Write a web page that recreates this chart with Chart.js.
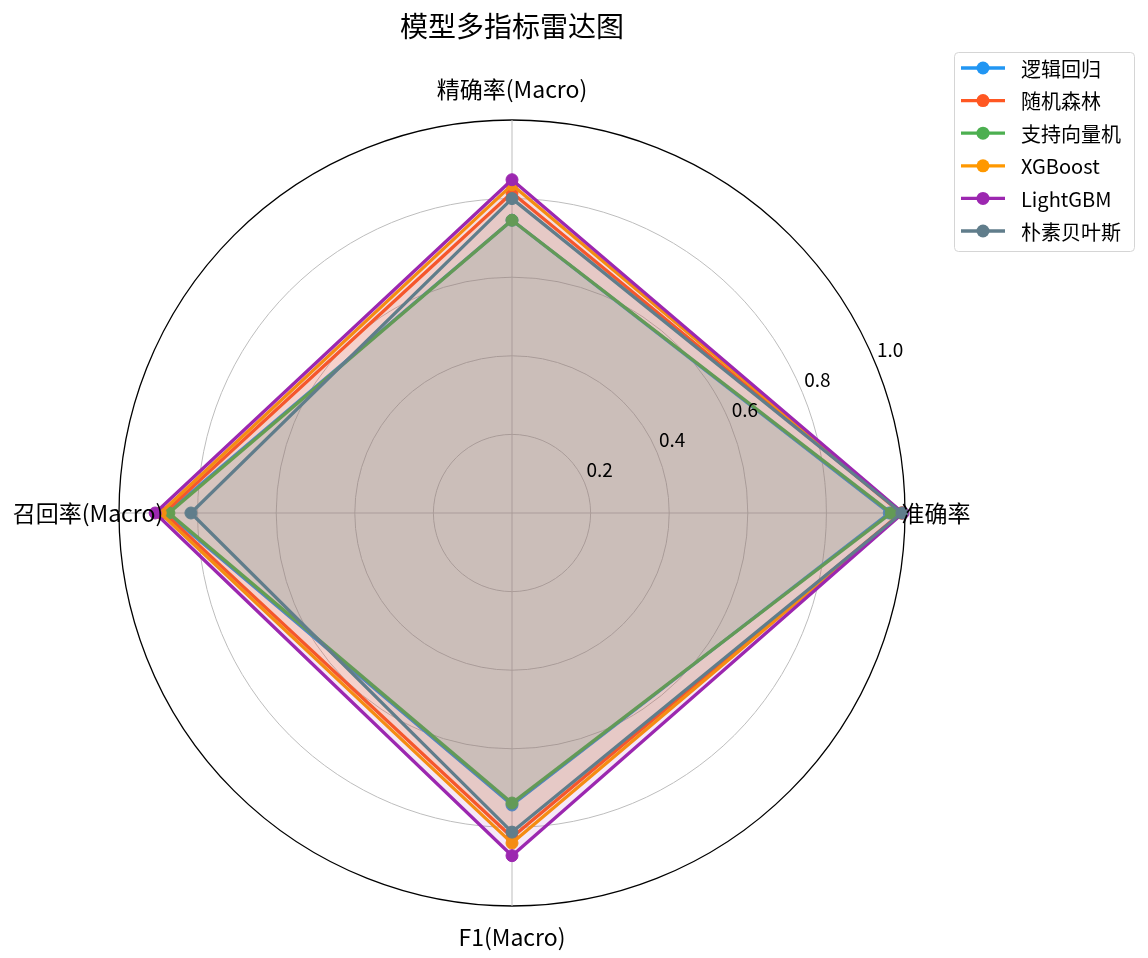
<!DOCTYPE html>
<html>
<head>
<meta charset="utf-8">
<script src="https://cdn.jsdelivr.net/npm/chart.js@4/dist/chart.umd.min.js"></script>
<style>
html,body{margin:0;padding:0;background:#fff;}
#wrap{width:1148px;height:958px;position:relative;}
</style>
</head>
<body>
<div id="wrap"><canvas id="c" width="1148" height="958"></canvas></div>
<script>
// Categories in clockwise order starting from top (Chart.js radar order)
const categories = ['精确率(Macro)', '准确率', 'F1(Macro)', '召回率(Macro)'];
const models = ['逻辑回归', '随机森林', '支持向量机', 'XGBoost', 'LightGBM', '朴素贝叶斯'];
const colors = ['#2196F3', '#FF5722', '#4CAF50', '#FF9800', '#9C27B0', '#607D8B'];
// values per model, in the order of `categories`
const lrValues   = [0.745, 0.960, 0.743, 0.878];
const rfValues   = [0.815, 0.990, 0.825, 0.885];
const svmValues  = [0.745, 0.965, 0.738, 0.873];
const xgbValues  = [0.835, 0.993, 0.840, 0.895];
const lgbmValues = [0.848, 0.995, 0.872, 0.908];
const nbValues   = [0.800, 0.992, 0.812, 0.817];
const seriesValues = [lrValues, rfValues, svmValues, xgbValues, lgbmValues, nbValues];
const tickValues = [0.2, 0.4, 0.6, 0.8, 1.0];
const tickLabels = ['0.2', '0.4', '0.6', '0.8', '1.0'];
const titleText = '模型多指标雷达图';

const FONT = '"Noto Sans CJK SC", "Noto Sans", sans-serif';

function hexA(hex, a) {
  const n = parseInt(hex.slice(1), 16);
  return `rgba(${(n>>16)&255},${(n>>8)&255},${n&255},${a})`;
}

const datasets = models.map((m, i) => ({
  label: m,
  data: seriesValues[i],
  borderColor: colors[i],
  backgroundColor: hexA(colors[i], 0.1),
  pointBackgroundColor: colors[i],
  pointBorderColor: colors[i],
  pointRadius: 6,
  pointBorderWidth: 1,
  borderWidth: 3.3,
  fill: true,
  order: -i
}));

const decor = {
  id: 'decor',
  afterDraw(chart) {
    const ctx = chart.ctx;
    const s = chart.scales.r;
    ctx.save();
    // title
    ctx.fillStyle = '#000';
    ctx.font = `28px ${FONT}`;
    ctx.textAlign = 'center';
    ctx.textBaseline = 'middle';
    ctx.fillText(titleText, s.xCenter, 26);
    // point labels
    ctx.font = `23px ${FONT}`;
    categories.forEach((c, i) => {
      const p = s.getPointPosition(i, s.drawingArea * 1.079);
      ctx.fillText(c, p.x, p.y);
    });
    // tick labels at 22.5 degrees
    ctx.font = `19px ${FONT}`;
    const ang = 22.5 * Math.PI / 180;
    tickValues.forEach((v, i) => {
      const d = s.getDistanceFromCenterForValue(v);
      const x = s.xCenter + d * Math.cos(ang) + 15;
      const y = s.yCenter - d * Math.sin(ang) - 13;
      ctx.fillText(tickLabels[i], x, y);
    });
    // legend
    const bx = 954, by = 52, bw = 180, bh = 199;
    ctx.beginPath();
    ctx.roundRect(bx + 0.5, by + 0.5, bw, bh, 4);
    ctx.fillStyle = 'rgba(255,255,255,0.8)';
    ctx.fill();
    ctx.strokeStyle = '#d5d5d5';
    ctx.lineWidth = 1;
    ctx.stroke();
    ctx.font = `20px ${FONT}`;
    ctx.textAlign = 'left';
    models.forEach((m, i) => {
      const y = 68 + i * 32.6;
      ctx.strokeStyle = colors[i];
      ctx.lineWidth = 3.3;
      ctx.beginPath();
      ctx.moveTo(961, y);
      ctx.lineTo(1005, y);
      ctx.stroke();
      ctx.fillStyle = colors[i];
      ctx.beginPath();
      ctx.arc(983, y, 6.5, 0, Math.PI * 2);
      ctx.fill();
      ctx.fillStyle = '#000';
      ctx.fillText(m, 1021, y + 1);
    });
    ctx.restore();
  }
};

new Chart(document.getElementById('c'), {
  type: 'radar',
  data: { labels: categories, datasets },
  options: {
    responsive: false,
    animation: false,
    layout: { padding: { left: 119, right: 243, top: 120, bottom: 52 } },
    plugins: {
      legend: { display: false },
      title: { display: false },
      tooltip: { enabled: false }
    },
    elements: { line: { tension: 0 } },
    scales: {
      r: {
        min: 0,
        max: 1,
        ticks: { display: false, stepSize: 0.2 },
        pointLabels: { display: false },
        angleLines: { color: '#bdbdbd', lineWidth: 1 },
        grid: {
          circular: true,
          color: (c) => (c.tick && Math.abs(c.tick.value - 1) < 1e-9) ? '#000' : '#bdbdbd',
          lineWidth: (c) => (c.tick && Math.abs(c.tick.value - 1) < 1e-9) ? 1.3 : 1
        }
      }
    }
  },
  plugins: [decor]
});
</script>
</body>
</html>
